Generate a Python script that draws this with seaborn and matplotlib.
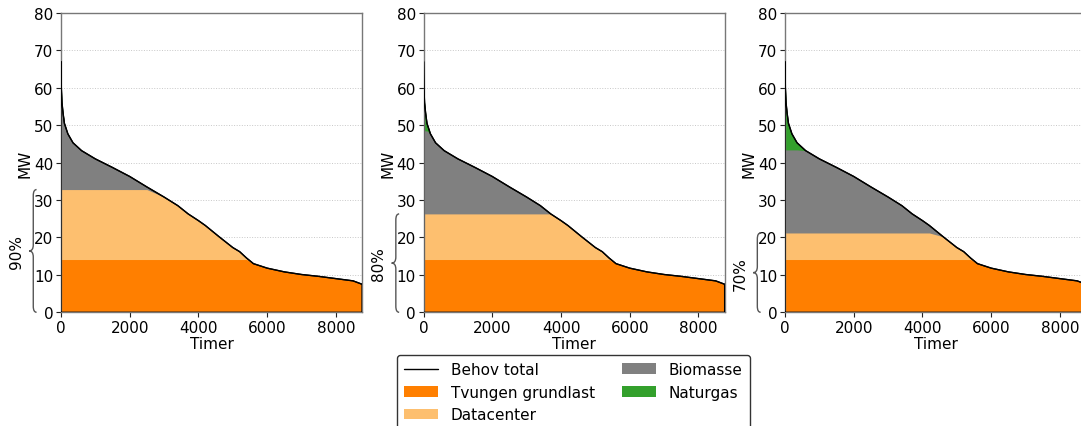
import numpy as np
import pandas as pd
import matplotlib
matplotlib.use("Agg")
import matplotlib.pyplot as plt
import seaborn as sns
from matplotlib.path import Path
from matplotlib.patches import PathPatch, Patch
from matplotlib.lines import Line2D
from matplotlib.transforms import blended_transform_factory

# ---- data ----
hours = [0, 10, 30, 60, 100, 200, 350, 600, 1000, 1500, 2000, 2500, 3000,
         3400, 3700, 4000, 4200, 4600, 5000, 5200, 5400, 5600, 6000, 6500,
         7000, 7500, 8000, 8500, 8760]
demand = [67.0, 60.0, 56.0, 53.3, 50.5, 47.7, 45.3, 43.2, 41.0, 38.7, 36.3,
          33.5, 30.8, 28.5, 26.3, 24.5, 23.2, 20.2, 17.3, 16.2, 14.5, 13.0,
          11.8, 10.8, 10.1, 9.6, 9.0, 8.4, 7.5]
scenarios = ["90%", "80%", "70%"]
grundlast_top = [14.1, 14.1, 14.1]
datacenter_top = [32.8, 26.3, 21.2]
biomasse_top = [55.0, 48.5, 43.4]

layer_names = ["Tvungen grundlast", "Datacenter", "Biomasse", "Naturgas"]
layer_colors = ["#ff7f00", "#fdbf6f", "#808080", "#33a02c"]

df = pd.DataFrame({"Timer": hours, "MW": demand})

sns.set_theme(style="ticks")
plt.rcParams["font.family"] = ["DejaVu Sans"]
plt.rcParams["font.size"] = 10
plt.rcParams["text.color"] = "black"
plt.rcParams["axes.labelcolor"] = "black"
plt.rcParams["xtick.color"] = "black"
plt.rcParams["ytick.color"] = "black"

fig = plt.figure(figsize=(10.81, 4.27), dpi=100)
lefts = [0.0564, 0.3918, 0.7262]
W, B, H = 0.2785, 0.2663, 0.701

x = np.asarray(hours, dtype=float)
d = np.asarray(demand, dtype=float)

for i, left in enumerate(lefts):
    ax = fig.add_axes([left, B, W, H])
    levels = [grundlast_top[i], datacenter_top[i], biomasse_top[i], np.inf]
    for lvl, col in reversed(list(zip(levels, layer_colors))):
        ax.fill_between(x, 0, np.minimum(d, lvl), color=col, linewidth=0, zorder=2)
    ax.fill_between(x, 0, d, facecolor="none", edgecolor="black", linewidth=0.9, zorder=3)
    sns.lineplot(data=df, x="Timer", y="MW", ax=ax, color="black", linewidth=1.0, zorder=4)

    ax.set_xlim(0, 8760)
    ax.set_ylim(0, 80)
    ax.set_yticks(np.arange(0, 81, 10))
    ax.set_xticks([0, 2000, 4000, 6000, 8000])
    ax.yaxis.grid(True, linestyle=":", color="#c8c8c8", linewidth=0.7, zorder=0)
    ax.set_axisbelow(True)
    for sp in ax.spines.values():
        sp.set_color("#777777")
        sp.set_linewidth(1.0)
    ax.tick_params(axis="both", labelsize=11, length=3.5, width=0.8, color="#222222", pad=2)
    ax.set_xlabel("Timer", fontsize=11, labelpad=1)
    ax.set_ylabel("MW", fontsize=11, labelpad=1)

    tr = blended_transform_factory(ax.transAxes, ax.transData)
    y0, y1 = 0.0, datacenter_top[i]
    ym = (y0 + y1) / 2
    xe, xb, xt = -0.081, -0.092, -0.106
    r = 1.6
    verts = [(xe, y0), (xb, y0), (xb, y0 + r),
             (xb, ym - r), (xb, ym), (xt, ym),
             (xb, ym), (xb, ym + r),
             (xb, y1 - r), (xb, y1), (xe, y1)]
    codes = [Path.MOVETO, Path.CURVE3, Path.CURVE3,
             Path.LINETO, Path.CURVE3, Path.CURVE3,
             Path.CURVE3, Path.CURVE3,
             Path.LINETO, Path.CURVE3, Path.CURVE3]
    ax.add_patch(PathPatch(Path(verts, codes), facecolor="none", edgecolor="#555555",
                           linewidth=1.0, transform=tr, clip_on=False))
    ax.text(-0.148, ym, scenarios[i], rotation=90, ha="center", va="center",
            fontsize=11, transform=tr)

handles = [Line2D([], [], color="black", linewidth=1.0)] + \
          [Patch(facecolor=c, edgecolor="none") for c in layer_colors]
labels = ["Behov total"] + layer_names
leg = fig.legend(handles, labels, ncol=2, loc="upper center",
                 bbox_to_anchor=(0.5305, 0.166), fontsize=11, frameon=True,
                 edgecolor="#333333", framealpha=1, columnspacing=1.8,
                 handlelength=2.2, handletextpad=0.85, borderpad=0.45,
                 borderaxespad=0)
leg.get_frame().set_linewidth(1.0)

fig.savefig("out.png", dpi=100)
